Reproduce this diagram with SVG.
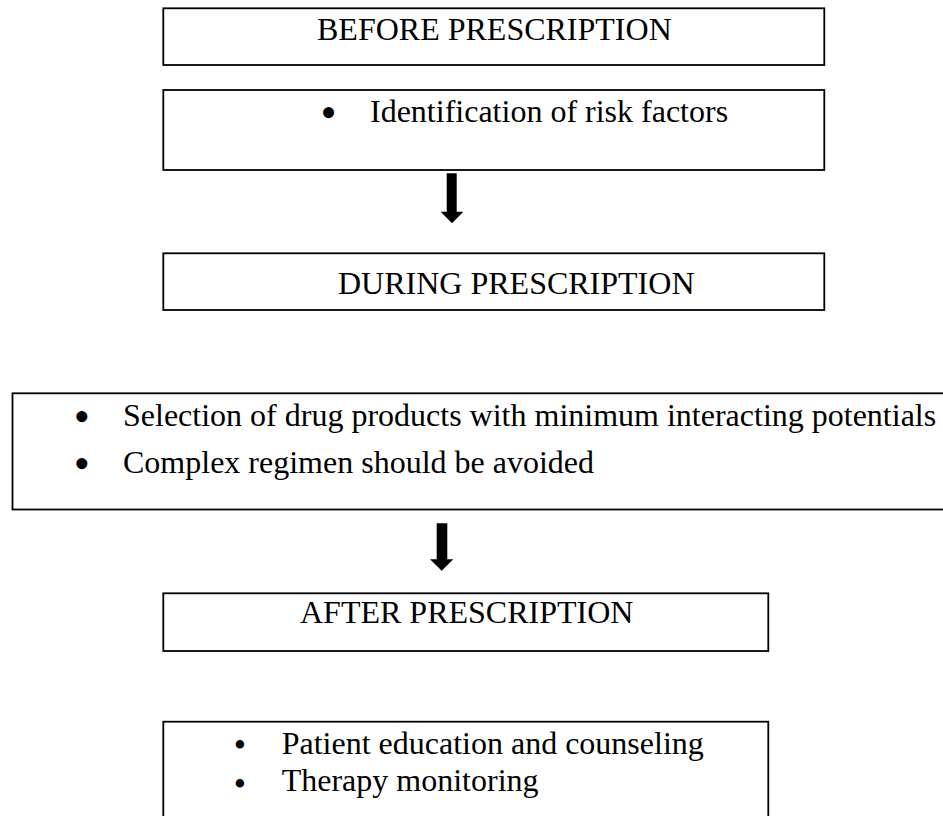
<svg xmlns="http://www.w3.org/2000/svg" width="943" height="816" viewBox="0 0 943 816">
<style>
.box{fill:#fff;stroke:#000;stroke-width:1.8}
.t{font-family:"Liberation Serif","Times New Roman",serif;font-size:32px;fill:#000}
.b{font-family:"Liberation Serif","Times New Roman",serif;font-size:46px;fill:#000;text-anchor:middle}
.bs{font-family:"Liberation Serif","Times New Roman",serif;font-size:35px;fill:#000;text-anchor:middle}
.arrow{fill:#000;stroke:none}
</style>
<rect width="943" height="816" fill="#fff"/>
<g id="before">
<rect class="box" x="163.3" y="8.3" width="661" height="56.7"/>
<text class="t" x="317" y="40">BEFORE PRESCRIPTION</text>
</g>
<g id="before-items">
<rect class="box" x="163.3" y="90" width="661" height="80"/>
<text class="b" x="328.5" y="128.3">•</text>
<text class="t" x="370" y="122.3">Identification of risk factors</text>
</g>
<g id="during">
<rect class="box" x="163.3" y="253.3" width="661" height="56.7"/>
<text class="t" x="338" y="294">DURING PRESCRIPTION</text>
</g>
<g id="during-items">
<rect class="box" x="12.5" y="393.3" width="940" height="116.2"/>
<text class="b" x="81.7" y="432.3">•</text>
<text class="t" x="123" y="426">Selection of drug products with minimum interacting potentials</text>
<text class="b" x="81.7" y="478.6">•</text>
<text class="t" x="123" y="473">Complex regimen should be avoided</text>
</g>
<g id="after">
<rect class="box" x="163.3" y="593.3" width="605" height="57.7"/>
<text class="t" x="300" y="622.7">AFTER PRESCRIPTION</text>
</g>
<g id="after-items">
<rect class="box" x="163.3" y="721.7" width="605" height="120"/>
<text class="bs" x="240" y="756.7">•</text>
<text class="t" x="281.7" y="753.8">Patient education and counseling</text>
<text class="bs" x="240" y="795.7">•</text>
<text class="t" x="281.7" y="790.5">Therapy monitoring</text>
</g>
<g id="connectors">
<path class="arrow" d="M446.7,173.3 H456.7 V211.7 H463.3 L452,223.3 L440.7,211.7 H446.7 Z"/>
<path class="arrow" d="M436.7,523.3 H447.3 V559.3 H453.3 L441.7,570.7 L430,559.3 H436.7 Z"/>
</g>
</svg>
